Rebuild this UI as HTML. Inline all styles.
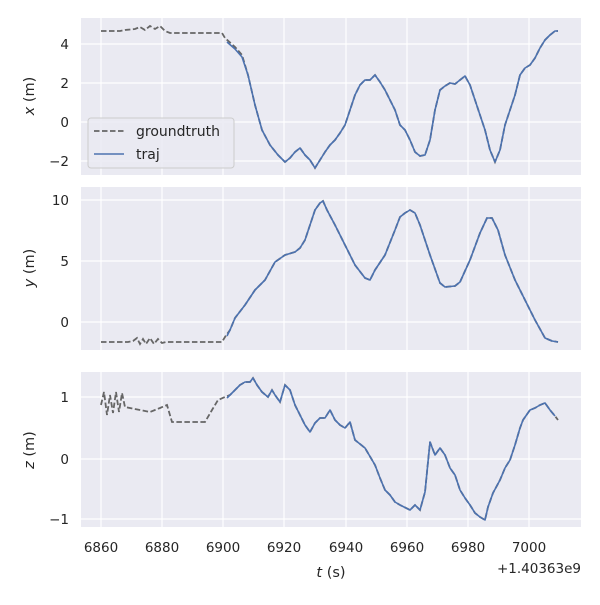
<!DOCTYPE html>
<html><head><style>body{margin:0;background:#fff}svg text{font-family:"DejaVu Sans","Liberation Sans",sans-serif;fill:#262626}</style></head><body>
<svg width="600" height="600" xmlns="http://www.w3.org/2000/svg">
<g fill="#eaeaf2"><rect x="81" y="18" width="500" height="157"/><rect x="81" y="187" width="500" height="163"/><rect x="81" y="372" width="500" height="155"/></g>
<g stroke="#fff" stroke-width="1.2">
<path d="M101 18V175M162 18V175M223 18V175M284 18V175M346 18V175M407 18V175M468 18V175M529 18V175M81 44H581M81 83H581M81 122H581M81 161H581"/>
<path d="M101 187V350M162 187V350M223 187V350M284 187V350M346 187V350M407 187V350M468 187V350M529 187V350M81 200H581M81 261H581M81 322H581"/>
<path d="M101 372V527M162 372V527M223 372V527M284 372V527M346 372V527M407 372V527M468 372V527M529 372V527M81 397H581M81 459H581M81 519H581"/>
</g>
<g fill="none" stroke="#666" stroke-width="1.8" stroke-dasharray="5.5,2.5">
<polyline points="101,31 120,31 125,30 135,29 140,27 145,30 150,26 155,29 160,26 165,31 170,33 222,33 225,38 235,47 242,55 248,75 255,105 262,130 270,145 278,155 285,162 290,158 295,152 300,148 305,155 310,160 315,168 320,160 325,152 330,145 335,140 340,133 345,125 350,110 355,95 360,85 365,80 370,80 375,75 380,82 385,90 390,100 395,110 400,125 405,130 410,140 415,152 420,156 425,155 430,140 435,110 440,90 445,86 450,83 455,84 460,80 465,76 470,85 475,100 480,115 485,130 490,150 495,162 500,150 505,125 510,110 515,95 520,75 525,68 530,65 535,58 540,48 545,40 550,35 555,31 558,31"/>
<polyline points="101,342 128,342 133,341 137,338 140,344 143,339 146,344 150,338 154,344 158,339 162,343 166,342 222,342 225,337 230,330 235,318 245,305 255,290 265,280 275,262 285,255 295,252 300,248 305,240 310,225 315,210 320,203 323,201 327,210 335,225 345,245 355,265 365,278 370,280 375,270 385,255 395,230 400,217 405,213 410,210 415,213 420,225 430,255 440,283 445,287 455,286 460,282 470,260 480,233 487,218 492,218 498,230 505,255 515,280 525,300 535,320 545,338 552,341 558,342"/>
<polyline points="101,405 104,392 107,415 110,395 113,413 116,392 119,412 122,393 125,407 140,410 150,412 160,408 167,405 172,422 205,422 212,410 218,400 225,397 230,395 235,390 240,385 245,382 250,382 253,378 257,385 262,392 268,397 272,390 275,395 280,402 285,385 290,390 295,405 300,415 305,425 310,432 315,423 320,418 325,418 330,410 335,420 340,425 345,428 350,422 355,440 365,448 375,465 380,478 385,490 390,495 395,502 400,505 410,510 415,505 420,510 425,492 430,442 435,455 440,448 445,455 450,468 455,475 460,490 465,498 470,505 475,513 480,517 485,520 488,507 493,493 500,480 505,468 510,460 515,445 520,428 523,420 530,410 535,408 540,405 545,403 550,410 555,416 558,420"/>
</g>
<g fill="none" stroke="#4c72b0" stroke-width="1.6" stroke-linejoin="round">
<polyline points="227,42 235,49 242,57 248,75 255,105 262,130 270,145 278,155 285,162 290,158 295,152 300,148 305,155 310,160 315,168 320,160 325,152 330,145 335,140 340,133 345,125 350,110 355,95 360,85 365,80 370,80 375,75 380,82 385,90 390,100 395,110 400,125 405,130 410,140 415,152 420,156 425,155 430,140 435,110 440,90 445,86 450,83 455,84 460,80 465,76 470,85 475,100 480,115 485,130 490,150 495,162 500,150 505,125 510,110 515,95 520,75 525,68 530,65 535,58 540,48 545,40 550,35 555,31 558,31"/>
<polyline points="227,336 230,330 235,318 245,305 255,290 265,280 275,262 285,255 295,252 300,248 305,240 310,225 315,210 320,203 323,201 327,210 335,225 345,245 355,265 365,278 370,280 375,270 385,255 395,230 400,217 405,213 410,210 415,213 420,225 430,255 440,283 445,287 455,286 460,282 470,260 480,233 487,218 492,218 498,230 505,255 515,280 525,300 535,320 545,338 552,341 558,342"/>
<polyline points="227,398 230,395 235,390 240,385 245,382 250,382 253,378 257,385 262,392 268,397 272,390 275,395 280,402 285,385 290,390 295,405 300,415 305,425 310,432 315,423 320,418 325,418 330,410 335,420 340,425 345,428 350,422 355,440 365,448 375,465 380,478 385,490 390,495 395,502 400,505 410,510 415,505 420,510 425,492 430,442 435,455 440,448 445,455 450,468 455,475 460,490 465,498 470,505 475,513 480,517 485,520 488,507 493,493 500,480 505,468 510,460 515,445 520,428 523,420 530,410 535,408 540,405 545,403 550,410 555,416 555,416"/>
</g>
<rect x="88" y="118" width="146" height="50" rx="3" fill="#eaeaf2" stroke="#ccc" fill-opacity="0.85"/>
<line x1="94" y1="131" x2="124" y2="131" stroke="#666" stroke-width="1.8" stroke-dasharray="5.5,2.5"/>
<line x1="94" y1="154" x2="124" y2="154" stroke="#4c72b0" stroke-width="1.6"/>
<g font-size="14"><text x="136" y="136">groundtruth</text><text x="136" y="159">traj</text></g>
<g font-size="13.5" text-anchor="end">
<text x="69" y="49">4</text><text x="69" y="88">2</text><text x="69" y="127">0</text><text x="69" y="166">−2</text>
<text x="69" y="205">10</text><text x="69" y="266">5</text><text x="69" y="327">0</text>
<text x="69" y="402">1</text><text x="69" y="464">0</text><text x="69" y="524">−1</text>
</g>
<g font-size="13.5" text-anchor="middle">
<text x="101" y="552">6860</text><text x="162" y="552">6880</text><text x="223" y="552">6900</text><text x="284" y="552">6920</text><text x="346" y="552">6940</text><text x="407" y="552">6960</text><text x="468" y="552">6980</text><text x="529" y="552">7000</text>
<text x="331" y="577" font-size="14.5"><tspan font-style="italic">t</tspan> (s)</text>
</g>
<text x="581" y="573" font-size="13.5" text-anchor="end">+1.40363e9</text>
<g font-size="14.5" text-anchor="middle">
<text transform="translate(34,96) rotate(-90)"><tspan font-style="italic">x</tspan> (m)</text>
<text transform="translate(34,268) rotate(-90)"><tspan font-style="italic">y</tspan> (m)</text>
<text transform="translate(34,450) rotate(-90)"><tspan font-style="italic">z</tspan> (m)</text>
</g>
</svg>
</body></html>
